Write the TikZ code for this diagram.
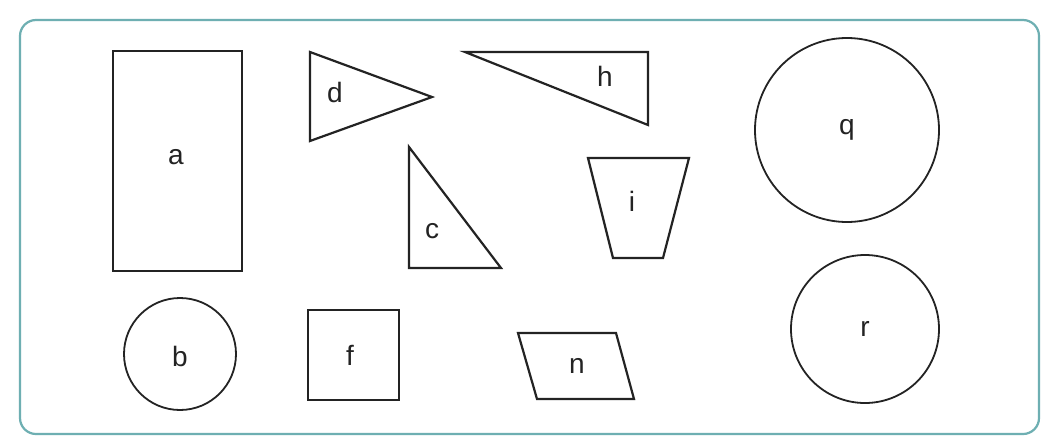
\documentclass[tikz,border=0pt]{standalone}
\usepackage{fontspec}
\setmainfont{Liberation Sans}
\definecolor{framecol}{RGB}{110,175,178}
\definecolor{shapecol}{RGB}{35,35,35}
\begin{document}
\begin{tikzpicture}[x=1pt,y=-1pt,
  shapeline/.style={draw=shapecol,line width=2.2pt,line join=miter},
  roundline/.style={draw=shapecol,line width=1.8pt},
  lbl/.style={font=\fontsize{28}{30}\selectfont,text=shapecol,inner sep=0pt}]
\useasboundingbox[fill=white] (0,0) rectangle (1045,437);
\draw[framecol,line width=2.2pt,rounded corners=16pt] (20,20) rectangle (1039,434);
% a
\draw[shapeline] (113,51) rectangle (242,271);
\node[lbl] (la) at (176,157) {a};
% d
\draw[shapeline] (310,52) -- (432,97) -- (310,141) -- cycle;
\node[lbl] (ld) at (335,92) {d};
% h
\draw[shapeline] (465,52) -- (648,52) -- (648,125) -- cycle;
\node[lbl] (lh) at (605,76) {h};
% c
\draw[shapeline] (409,147) -- (501,268) -- (409,268) -- cycle;
\node[lbl] (lc) at (432,231) {c};
% i
\draw[shapeline] (588,158) -- (689,158) -- (663,258) -- (613,258) -- cycle;
\node[lbl] (li) at (632,201) {i};
% q
\draw[roundline] (847,130) circle (92);
\node[lbl] (lq) at (847,130) {q};
% r
\draw[roundline] (865,329) circle (74);
\node[lbl] (lr) at (865,329) {r};
% b
\draw[roundline] (180,354) circle (56);
\node[lbl] (lb) at (180,356) {b};
% f
\draw[shapeline] (308,310) rectangle (399,400);
\node[lbl] (lf) at (350,355) {f};
% n
\draw[shapeline] (518,333) -- (616,333) -- (634,399) -- (537,399) -- cycle;
\node[lbl] (ln) at (577,366) {n};
\end{tikzpicture}
\end{document}
